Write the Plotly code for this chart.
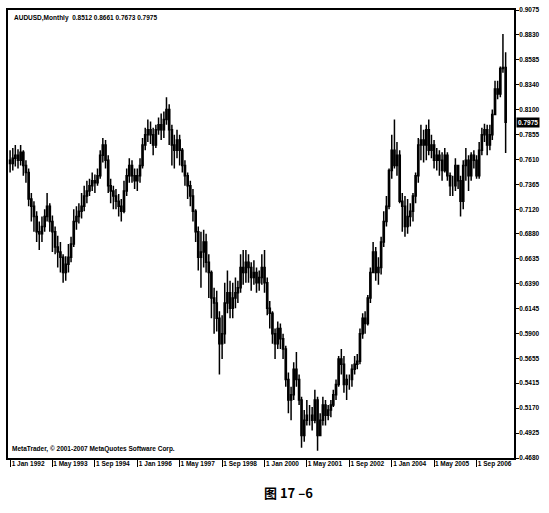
import pandas as pd
import plotly.graph_objects as go

# ---- data (monthly AUDUSD, Jan 1992 - Aug 2007) ----
closes = [
    0.757, 0.762, 0.765, 0.760, 0.768, 0.755, 0.748, 0.722, 0.715, 0.705, 0.690, 0.688,  # 1992
    0.695, 0.705, 0.715, 0.700, 0.690, 0.675, 0.670, 0.665, 0.650, 0.658, 0.665, 0.678,  # 1993
    0.700, 0.705, 0.710, 0.715, 0.725, 0.730, 0.735, 0.740, 0.738, 0.745, 0.765, 0.775,  # 1994
    0.760, 0.735, 0.730, 0.725, 0.720, 0.715, 0.710, 0.730, 0.745, 0.755, 0.745, 0.740,  # 1995
    0.745, 0.755, 0.775, 0.785, 0.790, 0.785, 0.775, 0.790, 0.795, 0.790, 0.800, 0.810,  # 1996
    0.790, 0.775, 0.770, 0.780, 0.770, 0.755, 0.745, 0.735, 0.725, 0.710, 0.690, 0.665,  # 1997
    0.670, 0.680, 0.660, 0.650, 0.625, 0.620, 0.605, 0.580, 0.590, 0.620, 0.630, 0.615,  # 1998
    0.625, 0.630, 0.635, 0.655, 0.650, 0.660, 0.655, 0.645, 0.650, 0.640, 0.645, 0.655,  # 1999
    0.640, 0.615, 0.610, 0.590, 0.580, 0.595, 0.585, 0.575, 0.545, 0.525, 0.530, 0.555,  # 2000
    0.545, 0.525, 0.490, 0.505, 0.510, 0.510, 0.505, 0.525, 0.490, 0.505, 0.520, 0.510,  # 2001
    0.515, 0.520, 0.530, 0.540, 0.565, 0.560, 0.540, 0.545, 0.545, 0.555, 0.560, 0.563,  # 2002
    0.590, 0.605, 0.600, 0.625, 0.650, 0.670, 0.650, 0.655, 0.680, 0.700, 0.715, 0.750,  # 2003
    0.770, 0.755, 0.765, 0.720, 0.715, 0.695, 0.705, 0.710, 0.725, 0.745, 0.775, 0.780,  # 2004
    0.775, 0.790, 0.770, 0.775, 0.760, 0.765, 0.760, 0.750, 0.765, 0.745, 0.735, 0.735,  # 2005
    0.755, 0.740, 0.720, 0.755, 0.760, 0.745, 0.765, 0.760, 0.745, 0.770, 0.785, 0.790,  # 2006
    0.775, 0.785, 0.805, 0.830, 0.825, 0.850, 0.8512, 0.7975,                            # 2007
]
highs = [
    0.770, 0.772, 0.775, 0.771, 0.775, 0.770, 0.760, 0.752, 0.728, 0.720, 0.710, 0.700,
    0.705, 0.712, 0.728, 0.718, 0.706, 0.695, 0.686, 0.680, 0.668, 0.666, 0.678, 0.685,
    0.712, 0.715, 0.718, 0.728, 0.735, 0.740, 0.742, 0.748, 0.746, 0.752, 0.770, 0.782,
    0.780, 0.765, 0.742, 0.735, 0.732, 0.727, 0.722, 0.740, 0.752, 0.762, 0.760, 0.752,
    0.752, 0.762, 0.782, 0.792, 0.800, 0.798, 0.792, 0.795, 0.802, 0.806, 0.808, 0.822,
    0.815, 0.795, 0.785, 0.790, 0.785, 0.772, 0.760, 0.748, 0.740, 0.732, 0.712, 0.695,
    0.690, 0.692, 0.688, 0.668, 0.652, 0.635, 0.632, 0.612, 0.608, 0.640, 0.652, 0.642,
    0.640, 0.645, 0.642, 0.668, 0.672, 0.672, 0.668, 0.660, 0.662, 0.655, 0.652, 0.668,
    0.672, 0.645, 0.622, 0.612, 0.595, 0.602, 0.600, 0.590, 0.578, 0.552, 0.538, 0.562,
    0.572, 0.550, 0.528, 0.515, 0.525, 0.520, 0.518, 0.535, 0.528, 0.512, 0.528, 0.525,
    0.520, 0.525, 0.535, 0.545, 0.568, 0.575, 0.568, 0.550, 0.550, 0.560, 0.568, 0.570,
    0.595, 0.610, 0.612, 0.628, 0.655, 0.680, 0.675, 0.665, 0.685, 0.710, 0.725, 0.752,
    0.785, 0.800, 0.778, 0.770, 0.728, 0.725, 0.722, 0.718, 0.728, 0.748, 0.782, 0.795,
    0.790, 0.795, 0.800, 0.785, 0.780, 0.772, 0.770, 0.768, 0.772, 0.768, 0.748, 0.745,
    0.762, 0.755, 0.745, 0.760, 0.772, 0.765, 0.768, 0.770, 0.765, 0.778, 0.792, 0.796,
    0.795, 0.795, 0.810, 0.838, 0.838, 0.852, 0.884, 0.8661,
]
lows = [
    0.748, 0.750, 0.754, 0.752, 0.755, 0.745, 0.738, 0.715, 0.700, 0.690, 0.680, 0.672,
    0.680, 0.690, 0.700, 0.690, 0.670, 0.668, 0.655, 0.650, 0.640, 0.642, 0.650, 0.660,
    0.675, 0.692, 0.698, 0.703, 0.710, 0.718, 0.725, 0.730, 0.728, 0.735, 0.742, 0.758,
    0.752, 0.728, 0.718, 0.712, 0.712, 0.705, 0.700, 0.708, 0.725, 0.738, 0.738, 0.732,
    0.730, 0.738, 0.752, 0.770, 0.778, 0.776, 0.765, 0.772, 0.785, 0.780, 0.782, 0.795,
    0.775, 0.755, 0.752, 0.762, 0.755, 0.748, 0.735, 0.722, 0.715, 0.700, 0.680, 0.652,
    0.635, 0.655, 0.650, 0.625, 0.605, 0.590, 0.592, 0.550, 0.565, 0.580, 0.610, 0.605,
    0.605, 0.615, 0.620, 0.630, 0.638, 0.640, 0.640, 0.632, 0.638, 0.630, 0.632, 0.638,
    0.630, 0.608, 0.595, 0.580, 0.565, 0.575, 0.575, 0.565, 0.538, 0.512, 0.505, 0.525,
    0.538, 0.520, 0.478, 0.484, 0.500, 0.500, 0.495, 0.502, 0.475, 0.490, 0.500, 0.500,
    0.505, 0.508, 0.518, 0.525, 0.538, 0.550, 0.532, 0.525, 0.535, 0.538, 0.550, 0.555,
    0.560, 0.585, 0.590, 0.598, 0.620, 0.650, 0.642, 0.638, 0.648, 0.675, 0.695, 0.712,
    0.742, 0.752, 0.745, 0.718, 0.690, 0.685, 0.688, 0.695, 0.700, 0.718, 0.738, 0.760,
    0.758, 0.760, 0.765, 0.762, 0.752, 0.750, 0.745, 0.740, 0.748, 0.740, 0.725, 0.725,
    0.730, 0.732, 0.705, 0.712, 0.740, 0.730, 0.740, 0.752, 0.742, 0.742, 0.765, 0.778,
    0.765, 0.770, 0.780, 0.805, 0.820, 0.822, 0.846, 0.7673,
]
first_open = 0.760

y_ticks = [0.9075, 0.8830, 0.8585, 0.8340, 0.8100, 0.7855, 0.7610, 0.7365, 0.7120,
           0.6880, 0.6635, 0.6390, 0.6145, 0.5900, 0.5655, 0.5415, 0.5170, 0.4925, 0.4680]
x_tick_dates = ["1992-01-01", "1993-05-01", "1994-09-01", "1996-01-01", "1997-05-01",
                "1998-09-01", "2000-01-01", "2001-05-01", "2002-09-01", "2004-01-01",
                "2005-05-01", "2006-09-01"]
x_tick_labels = ["1 Jan 1992", "1 May 1993", "1 Sep 1994", "1 Jan 1996", "1 May 1997",
                 "1 Sep 1998", "1 Jan 2000", "1 May 2001", "1 Sep 2002", "1 Jan 2004",
                 "1 May 2005", "1 Sep 2006"]
header = "AUDUSD,Monthly  0.8512 0.8661 0.7673 0.7975"
last_price = 0.7975

# ---- build ----
dates = pd.date_range("1992-01-01", periods=len(closes), freq="MS")
opens = [first_open] + closes[:-1]

fig = go.Figure(go.Candlestick(
    x=dates, open=opens, high=highs, low=lows, close=closes,
    increasing=dict(line=dict(color="black", width=1.5), fillcolor="white"),
    decreasing=dict(line=dict(color="black", width=1.5), fillcolor="black"),
    whiskerwidth=0, showlegend=False, hoverinfo="skip",
))

fam = "Liberation Sans"
tick_font = dict(family=fam, size=6.5, color="black", weight="bold")

fig.update_layout(
    width=549, height=513,
    margin=dict(l=6, r=35, t=10, b=55),
    paper_bgcolor="white", plot_bgcolor="white",
    showlegend=False,
    xaxis=dict(
        type="date", rangeslider=dict(visible=False),
        range=["1991-12-08", "2007-11-05"],
        tickvals=x_tick_dates, ticktext=x_tick_labels, tickangle=0,
        ticks="outside", ticklen=7, tickcolor="black", tickwidth=1,
        tickfont=tick_font, ticklabelshift=18, ticklabelstandoff=-9,
        showgrid=False, zeroline=False,
        showline=True, linecolor="black", linewidth=1.5, mirror=True,
    ),
    yaxis=dict(
        side="right", range=[0.4680, 0.9075],
        tickvals=y_ticks, ticktext=[f"{v:.4f}" for v in y_ticks],
        ticks="outside", ticklen=3, tickcolor="black", tickwidth=1,
        tickfont=tick_font, ticklabelstandoff=-1,
        showgrid=False, zeroline=False,
        showline=True, linecolor="black", linewidth=2, mirror=True,
    ),
    annotations=[
        dict(xref="paper", yref="paper", x=0.008, y=0.996, xanchor="left", yanchor="top",
             text=header, showarrow=False,
             font=dict(family=fam, size=6.5, color="black", weight="bold")),
        dict(xref="paper", yref="paper", x=0.003, y=0.006, xanchor="left", yanchor="bottom",
             text="MetaTrader, © 2001-2007 MetaQuotes Software Corp.", showarrow=False,
             font=dict(family=fam, size=6.5, color="black", weight="bold")),
        dict(xref="paper", yref="y", x=1.004, y=last_price, xanchor="left", yanchor="middle",
             text=f"{last_price:.4f}", showarrow=False, bgcolor="black", borderpad=1,
             font=dict(family=fam, size=6.5, color="white", weight="bold")),
        dict(xref="paper", yref="paper", x=0.555, y=-0.076, xanchor="center", yanchor="middle",
             text="图 17 –6", showarrow=False,
             font=dict(family="Noto Sans CJK SC", size=13, color="black", weight="bold")),
    ],
)

fig.write_html("out.html", config={"displayModeBar": False},
               post_script="document.body.style.margin='0px';")
